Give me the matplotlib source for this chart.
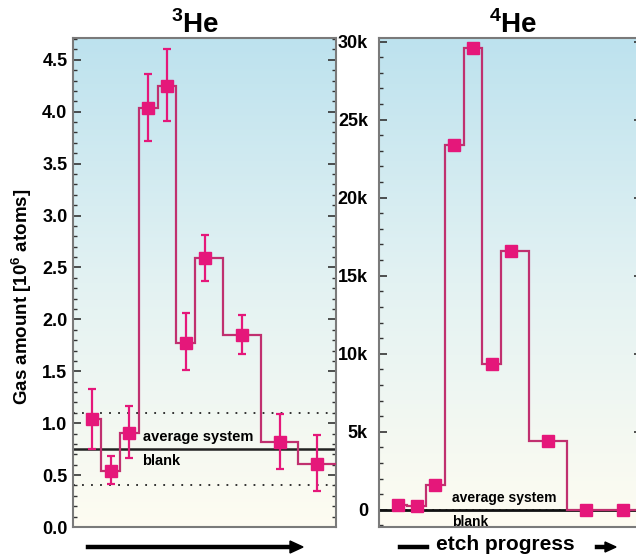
import numpy as np
import matplotlib.pyplot as plt
from matplotlib.lines import Line2D
from matplotlib.colors import LinearSegmentedColormap

plt.rcParams['font.family'] = ['Liberation Sans', 'DejaVu Sans']
plt.rcParams['font.weight'] = 'bold'
plt.rcParams['axes.labelweight'] = 'bold'
plt.rcParams['mathtext.fontset'] = 'custom'
plt.rcParams['mathtext.rm'] = 'Liberation Sans:bold'
plt.rcParams['mathtext.bf'] = 'Liberation Sans:bold'

# etch steps (point positions) and step edges
steps = [1, 2, 3, 4, 5, 6, 7, 9, 11, 13]
edges = [1, 1.5, 2.5, 3.5, 4.5, 5.5, 6.5, 8, 10, 12, 14]

# 3He, 10^6 atoms
he3 = [1.04, 0.54, 0.91, 4.04, 4.25, 1.77, 2.59, 1.85, 0.82, 0.61]
he3_lo = [0.75, 0.41, 0.66, 3.72, 3.91, 1.51, 2.37, 1.67, 0.56, 0.35]
he3_hi = [1.33, 0.68, 1.17, 4.36, 4.60, 2.06, 2.81, 2.04, 1.09, 0.89]
he3_blank = 0.75
he3_blank_band = [0.40, 1.10]

# 4He
he4 = [300, 250, 1560, 23400, 29600, 9360, 16600, 4430, 0, 0]
he4_step = [280, 220, 1560, 23400, 29600, 9360, 16600, 4430, 0, 0]
he4_blank = 0

line_col = '#c0306f'
mark_col = '#e5177a'
spine_col = '#7a7a7a'

W, H = 636, 556
fig = plt.figure(figsize=(W / 100, H / 100), dpi=100)

def px(x0, y0, w, h):
    return [x0 / W, 1 - (y0 + h) / H, w / W, h / H]

ax1 = fig.add_axes(px(73, 38, 263, 489))
ax2 = fig.add_axes(px(379, 38, 263, 489))

grad = np.linspace(0, 1, 256).reshape(-1, 1)
bg = LinearSegmentedColormap.from_list('bg', ['#bde2ee', '#e3f2f3', '#fefcf1'])

for ax, ylim in [(ax1, (0, 4.71)), (ax2, (-1100, 30230))]:
    ax.set_xlim(0, 14)
    ax.set_ylim(*ylim)
    ax.imshow(grad, extent=[0, 14, ylim[0], ylim[1]], aspect='auto',
              cmap=bg, origin='upper', zorder=0)
    ax.set_xticks([])
    for s in ax.spines.values():
        s.set_color(spine_col)
        s.set_linewidth(1.5)
    ax.tick_params(axis='y', which='both', direction='in', right=True,
                   color='#333333', labelsize=13)
    ax.tick_params(axis='y', which='major', length=6, width=1.2)
    ax.tick_params(axis='y', which='minor', length=3, width=1)

# left panel
ax1.set_yticks(np.arange(0, 4.6, 0.5))
ax1.set_yticklabels(['%.1f' % v for v in np.arange(0, 4.6, 0.5)])
ax1.set_yticks(np.arange(0, 4.71, 0.1), minor=True)
ax1.tick_params(axis='y', pad=4)
ax1.axhline(he3_blank, color='#222222', lw=1.8, zorder=2)
for v in he3_blank_band:
    ax1.axhline(v, color='#222222', lw=1.3, ls=(0, (1, 4)), zorder=2)
ax1.stairs(he3, edges, color=line_col, lw=1.6, baseline=None, zorder=3)
err = [np.array(he3) - np.array(he3_lo), np.array(he3_hi) - np.array(he3)]
ax1.errorbar(steps, he3, yerr=err, fmt='s', color=mark_col, ms=8,
             ecolor=mark_col, elinewidth=1.6, capsize=3, capthick=1.6, zorder=4)
ax1.text(3.7, he3_blank + 0.045, 'average system', fontsize=10.5, va='bottom', zorder=5)
ax1.text(3.7, he3_blank - 0.045, 'blank', fontsize=10.5, va='top', zorder=5)
ax1.set_ylabel('Gas amount [10$^{6}$ atoms]', fontsize=13.5)
ax1.yaxis.set_label_coords(-0.148, 0.47)

# right panel
ax2.set_yticks(np.arange(0, 30001, 5000))
ax2.set_yticklabels(['0', '5k', '10k', '15k', '20k', '25k', '30k'])
ax2.set_yticks(np.arange(-1000, 30001, 1000), minor=True)
ax2.tick_params(axis='y', pad=8)
ax2.axhline(he4_blank, color='#111111', lw=2.0, zorder=2)
ax2.axhline(he4_blank, color='#111111', lw=1.2, ls=(0, (1, 3)), zorder=2)
ax2.stairs(he4_step, edges[:-2] + [10, 14], color=line_col, lw=1.6, baseline=None, zorder=3)
ax2.plot(steps, he4, 's', color=mark_col, ms=8, zorder=4)
ax2.text(3.9, he4_blank + 300, 'average system', fontsize=10, va='bottom', zorder=5)
ax2.text(3.9, he4_blank - 300, 'blank', fontsize=10, va='top', zorder=5)

# titles
fig.text(195 / W, 1 - 25 / H, r'$^{\mathbf{3}}$He', fontsize=20, ha='center', va='center')
fig.text(513 / W, 1 - 25 / H, r'$^{\mathbf{4}}$He', fontsize=20, ha='center', va='center')

# etch progress arrows
ya = 1 - 547 / H
fig.add_artist(Line2D([88 / W, 292 / W], [ya, ya], color='black', lw=3.2))
fig.patches.append(plt.Polygon([[290 / W, ya + 6 / H], [303 / W, ya], [290 / W, ya - 6 / H]],
                               closed=True, color='black', transform=fig.transFigure,
                               figure=fig))
fig.add_artist(Line2D([400 / W, 427 / W], [ya, ya], color='black', lw=3.2))
fig.text(505 / W, ya + 2 / H, 'etch progress', fontsize=15, ha='center', va='center')
fig.add_artist(Line2D([597 / W, 608 / W], [ya, ya], color='black', lw=3.2))
fig.patches.append(plt.Polygon([[605 / W, ya + 5 / H], [616 / W, ya], [605 / W, ya - 5 / H]],
                               closed=True, color='black', transform=fig.transFigure,
                               figure=fig))

fig.savefig('out.png', dpi=100)
